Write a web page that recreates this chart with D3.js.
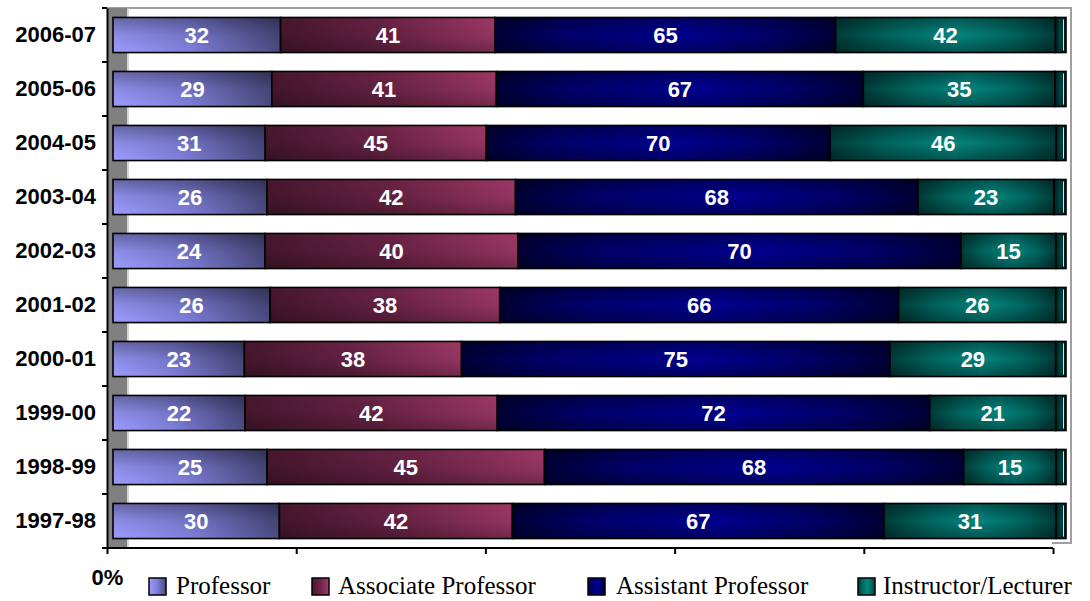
<!DOCTYPE html>
<html><head><meta charset="utf-8">
<script src="https://cdn.jsdelivr.net/npm/d3@7"></script>
<style>body{margin:0;background:#fff;}svg{display:block;}</style>
</head><body>
<script>
const categories = ["2006-07","2005-06","2004-05","2003-04","2002-03","2001-02","2000-01","1999-00","1998-99","1997-98"];
const seriesNames = ["Professor","Associate Professor","Assistant Professor","Instructor/Lecturer","Other"];
const professor = [32,29,31,26,24,26,23,22,25,30];
const associate = [41,41,45,42,40,38,38,42,45,42];
const assistant = [65,67,70,68,70,66,75,72,68,67];
const instructor = [42,35,46,23,15,26,29,21,15,31];
const other = [2,2,2,2,1.6,1.7,1.8,1.7,1.6,1.8];
const xTicks = [0,20,40,60,80,100];

const W=1090,H=601;
const svg=d3.select("body").append("svg").attr("width",W).attr("height",H);
const defs=svg.append("defs");

function hgrad(id,stops){
  const g=defs.append("linearGradient").attr("id",id).attr("x1","0").attr("y1","0").attr("x2","1").attr("y2","0");
  stops.forEach(s=>g.append("stop").attr("offset",s[0]).attr("stop-color",s[1]));
}
function vgrad(id,stops){
  const g=defs.append("linearGradient").attr("id",id).attr("x1","0").attr("y1","0").attr("x2","0").attr("y2","1");
  stops.forEach(s=>g.append("stop").attr("offset",s[0]).attr("stop-color","#000").attr("stop-opacity",s[1]));
}
hgrad("g0",[[0,"#9c9cff"],[0.45,"#8080dc"],[1,"#4a4a80"]]);
hgrad("g1",[[0,"#4a1830"],[0.5,"#6e2448"],[1,"#a43a6a"]]);
hgrad("g2",[[0,"#000038"],[0.2,"#00006a"],[0.55,"#000090"],[0.8,"#00006a"],[1,"#000038"]]);
hgrad("g3",[[0,"#003c3a"],[0.25,"#006660"],[0.55,"#05857e"],[0.8,"#006660"],[1,"#003c3a"]]);
hgrad("g4",[[0,"#002222"],[0.5,"#004a48"],[1,"#001a1a"]]);
vgrad("v0",[[0,0.35],[0.5,0.1],[1,0]]);
vgrad("v1",[[0,0.05],[0.5,0.1],[1,0.3]]);
vgrad("v2",[[0,0.3],[0.5,0],[1,0.3]]);
vgrad("v3",[[0,0.35],[0.5,0],[1,0.35]]);
vgrad("v4",[[0,0.2],[0.5,0],[1,0.2]]);

const plotTop=8, plotBottom=548;
const xAxisScale=d3.scaleLinear().domain([0,100]).range([107,1053]);
const xBar=d3.scaleLinear().domain([0,1]).range([113,1066]);
const y=d3.scaleBand().domain(categories).range([plotTop,plotBottom]).paddingInner(0.35).paddingOuter(0.175);

// plot area frame
svg.append("path").attr("d",`M107,${plotTop}H1071V${plotBottom-5}H1052`).attr("fill","none").attr("stroke","#a0a0a0").attr("stroke-width",2);
// wall
svg.append("rect").attr("x",108).attr("y",plotTop).attr("width",19).attr("height",plotBottom-plotTop).attr("fill","#808080");
svg.append("line").attr("x1",128).attr("x2",128).attr("y1",plotTop).attr("y2",plotBottom).attr("stroke","#c8c8c8").attr("stroke-width",1.5);

const data=categories.map((c,i)=>({cat:c,vals:[professor[i],associate[i],assistant[i],instructor[i],other[i]]}));
const rows=svg.append("g").selectAll("g").data(data).join("g");
rows.each(function(d){
  const g=d3.select(this);
  const total=d3.sum(d.vals);
  let cum=0;
  d.vals.forEach((v,k)=>{
    const x0=xBar(cum/total), x1=xBar((cum+v)/total);
    cum+=v;
    const yy=y(d.cat), hh=y.bandwidth();
    g.append("rect").attr("x",x0).attr("y",yy).attr("width",x1-x0).attr("height",hh).attr("fill",`url(#g${k})`);
    g.append("rect").attr("x",x0).attr("y",yy).attr("width",x1-x0).attr("height",hh).attr("fill",`url(#v${k})`)
      .attr("stroke","#000").attr("stroke-width",1.6);
    if(k===4){
      g.append("line").attr("x1",x1-2.5).attr("x2",x1-2.5).attr("y1",yy+2).attr("y2",yy+hh-2).attr("stroke","#e0e0e0").attr("stroke-width",1);
    }
    if(k<4){
      g.append("text").attr("x",(x0+x1)/2).attr("y",yy+hh/2+8).attr("text-anchor","middle")
        .attr("fill","#fff").attr("font-family","Liberation Sans, Arial, sans-serif").attr("font-weight","bold").attr("font-size",22)
        .text(v);
    }
  });
});

// y axis
const yAxisG=svg.append("g").attr("transform","translate(107,0)")
  .call(d3.axisLeft(y).tickSize(0).tickPadding(11));
yAxisG.select(".domain").attr("stroke","#000").attr("stroke-width",2);
yAxisG.selectAll("text").attr("font-family","Liberation Sans, Arial, sans-serif").attr("font-weight","bold").attr("font-size",22).attr("fill","#000");
// y tick marks at band boundaries
const bounds=categories.map(c=>y(c)-y.step()*y.paddingInner()/2).concat([plotBottom]);
svg.append("g").selectAll("line").data(bounds).join("line")
  .attr("x1",102).attr("x2",107).attr("y1",d=>d).attr("y2",d=>d).attr("stroke","#000").attr("stroke-width",2);

// x axis
const xAxisG=svg.append("g").attr("transform",`translate(0,${plotBottom})`)
  .call(d3.axisBottom(xAxisScale).tickValues(xTicks).tickSize(6).tickFormat(d=>d===0?"0%":""));
xAxisG.select(".domain").attr("stroke","#000").attr("stroke-width",2).attr("d","M107,0H1053");
xAxisG.selectAll(".tick line").attr("stroke","#000").attr("stroke-width",2);
xAxisG.selectAll("text").attr("font-family","Liberation Sans, Arial, sans-serif").attr("font-weight","bold").attr("font-size",22).attr("fill","#000").attr("y",37).attr("dy",0);

// legend
const legendBox=[149,312,588,858];
const legendText=[176,338,616,883];
const lg=svg.append("g");
seriesNames.slice(0,4).forEach((n,k)=>{
  lg.append("rect").attr("x",legendBox[k]).attr("y",578).attr("width",17).attr("height",17).attr("fill",`url(#g${k})`).attr("stroke","#000").attr("stroke-width",1.5);
  lg.append("text").attr("x",legendText[k]).attr("y",594).attr("font-family","Liberation Serif, Times New Roman, serif").attr("font-size",25).attr("fill","#000").text(n);
});
</script>
</body></html>
